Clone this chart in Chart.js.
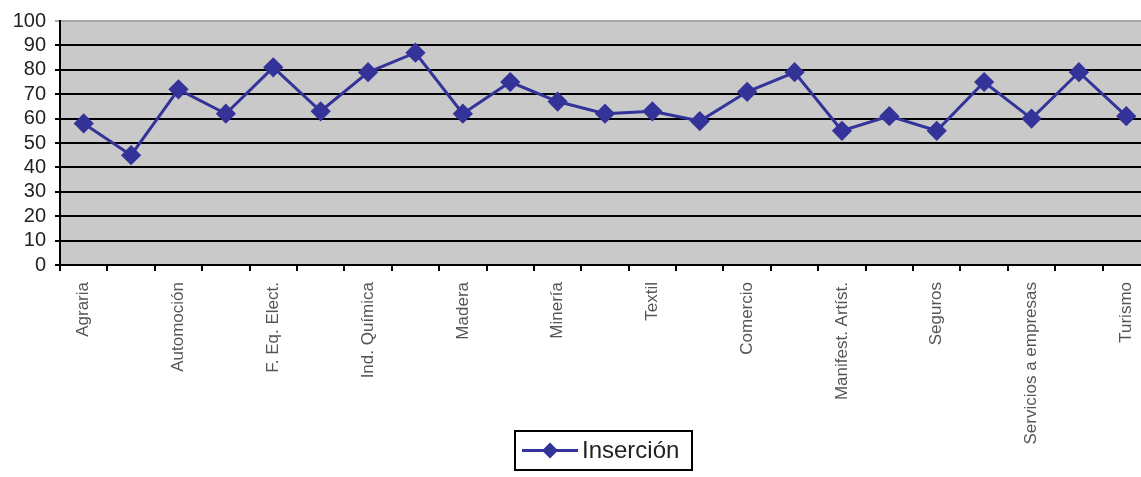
<!DOCTYPE html>
<html>
<head>
<meta charset="utf-8">
<script src="https://cdn.jsdelivr.net/npm/chart.js@4"></script>
<style>
  html, body { margin: 0; background: #fff; overflow: hidden; }
</style>
</head>
<body>
<canvas id="chart" width="1141" height="477"></canvas>
<script>
// categories (only every other one is labelled in the original)
const sectores = [
  "Agraria", "", "Automoción", "", "F. Eq. Elect.", "", "Ind. Química", "",
  "Madera", "", "Minería", "", "Textil", "", "Comercio", "", "Manifest. Artíst.", "",
  "Seguros", "", "Servicios a empresas", "", "Turismo"
];
const insercion = [58, 45, 72, 62, 81, 63, 79, 87, 62, 75, 67, 62, 63, 59, 71, 79, 55, 61, 55, 75, 60, 79, 61];
const yTicks = [0, 10, 20, 30, 40, 50, 60, 70, 80, 90, 100];

const lineColor = "#333399";

// the original plot is cut off on the right: let the x axis run past the canvas edge
const widePlot = {
  id: "widePlot",
  afterLayout(chart) {
    const a = chart.chartArea;
    const s = chart.scales.x;
    const right = a.left + 1090;
    s.right = right;
    s.width = right - s.left;
    s.configure();
    a.right = right;
    a.width = right - a.left;
  }
};

// gray plot background
const plotBg = {
  id: "plotBg",
  beforeDraw(chart) {
    const { ctx, chartArea: a } = chart;
    ctx.save();
    ctx.fillStyle = "#c9c9c9";
    ctx.fillRect(a.left, a.top, a.right - a.left, a.bottom - a.top);
    ctx.restore();
  }
};

// boxed legend like the excel one
const boxLegend = {
  id: "boxLegend",
  afterDraw(chart) {
    const { ctx, chartArea: a } = chart;
    const cx = (a.left + a.right) / 2;
    const x = cx - 90, y = 431, w = 177, h = 39;
    ctx.save();
    ctx.fillStyle = "#fff";
    ctx.fillRect(x, y, w, h);
    ctx.strokeStyle = "#000";
    ctx.lineWidth = 2;
    ctx.strokeRect(x, y, w, h);
    const my = y + h / 2;
    ctx.strokeStyle = lineColor;
    ctx.lineWidth = 3;
    ctx.beginPath();
    ctx.moveTo(x + 7, my);
    ctx.lineTo(x + 63, my);
    ctx.stroke();
    ctx.fillStyle = lineColor;
    ctx.beginPath();
    ctx.moveTo(x + 35, my - 8);
    ctx.lineTo(x + 43, my);
    ctx.lineTo(x + 35, my + 8);
    ctx.lineTo(x + 27, my);
    ctx.closePath();
    ctx.fill();
    ctx.fillStyle = "#222";
    ctx.font = "24px 'Liberation Sans', Arial, sans-serif";
    ctx.textBaseline = "middle";
    ctx.fillText("Inserción", x + 67, my + 1);
    ctx.restore();
  }
};

new Chart(document.getElementById("chart"), {
  type: "line",
  data: {
    labels: sectores,
    datasets: [{
      label: "Inserción",
      data: insercion,
      borderColor: lineColor,
      backgroundColor: lineColor,
      borderWidth: 3,
      pointStyle: "rectRot",
      pointRadius: 8,
      pointHoverRadius: 8,
      tension: 0
    }]
  },
  options: {
    responsive: false,
    animation: false,
    layout: { padding: { top: 20, right: 0, left: 0, bottom: 0 } },
    plugins: {
      legend: { display: false },
      tooltip: { enabled: false }
    },
    scales: {
      x: {
        offset: true,
        afterFit(s) { s.height = 212; },
        grid: {
          offset: true,
          drawOnChartArea: false,
          drawTicks: true,
          tickLength: 6,
          color: "#000",
          lineWidth: 2
        },
        border: { color: "#000", width: 2 },
        ticks: {
          autoSkip: false,
          maxRotation: 90,
          minRotation: 90,
          padding: 11,
          color: "#555",
          font: { family: "'Liberation Sans', Arial, sans-serif", size: 17 }
        }
      },
      y: {
        min: 0,
        max: 100,
        afterFit(s) { s.width = 60; },
        afterBuildTicks(s) { s.ticks = yTicks.map(v => ({ value: v })); },
        grid: {
          color: ctx => ctx.tick && ctx.tick.value === 100 ? "#a8a8a8" : "#000",
          lineWidth: 2,
          tickLength: 5
        },
        border: { color: "#000", width: 2 },
        ticks: {
          autoSkip: false,
          stepSize: 10,
          padding: 9,
          color: "#222",
          font: { family: "'Liberation Sans', Arial, sans-serif", size: 20 }
        }
      }
    }
  },
  plugins: [widePlot, plotBg, boxLegend]
});
</script>
</body>
</html>
